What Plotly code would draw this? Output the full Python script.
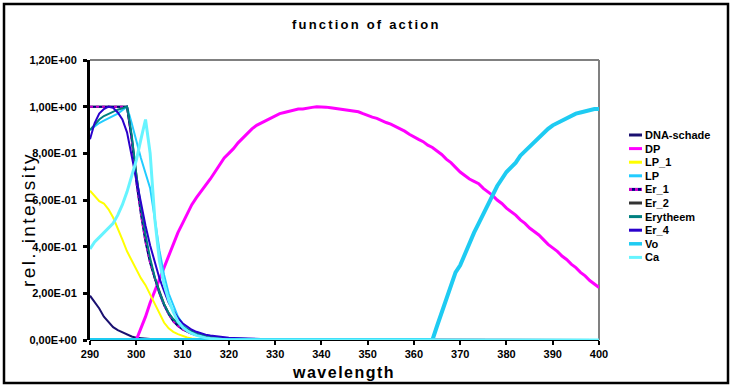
import plotly.graph_objects as go

# ---------------- data ----------------
wavelength = list(range(290, 401))

dna_schade = [0.19, 0.165, 0.135, 0.10, 0.075, 0.055, 0.042, 0.032, 0.022, 0.015,
              0.01, 0.007, 0.005, 0.004, 0.003, 0.003, 0.002, 0.002, 0.001, 0.001,
              0.001] + [0.0] * 90

dp = [None] * 10 + [
    0.0, 0.05, 0.10, 0.16, 0.21, 0.26, 0.31, 0.36, 0.41, 0.46,
    0.50, 0.54, 0.58, 0.61, 0.635, 0.66, 0.69, 0.72, 0.75, 0.78,
    0.80, 0.82, 0.845, 0.865, 0.885, 0.905, 0.92, 0.93, 0.94, 0.95,
    0.96, 0.97, 0.975, 0.98, 0.985, 0.99, 0.99, 0.995, 0.997, 1.0,
    1.0, 0.998, 0.995, 0.992, 0.99, 0.988, 0.985, 0.98, 0.978, 0.97,
    0.962, 0.955, 0.95, 0.94, 0.932, 0.925, 0.915, 0.908, 0.895, 0.882,
    0.87, 0.86, 0.85, 0.835, 0.825, 0.81, 0.795, 0.775, 0.76, 0.74,
    0.72, 0.705, 0.69, 0.68, 0.67, 0.65, 0.635, 0.62, 0.60, 0.585,
    0.565, 0.55, 0.535, 0.515, 0.50, 0.48, 0.465, 0.45, 0.43, 0.41,
    0.395, 0.38, 0.36, 0.345, 0.325, 0.31, 0.29, 0.275, 0.255, 0.24,
    0.225]

lp_1 = [0.64, 0.615, 0.595, 0.585, 0.56, 0.525, 0.48, 0.43, 0.38, 0.34,
        0.30, 0.265, 0.235, 0.195, 0.15, 0.11, 0.075, 0.05, 0.035, 0.025,
        0.017, 0.011, 0.007, 0.004, 0.002, 0.001] + [0.0] * 85

lp = [0.90, 0.915, 0.93, 0.94, 0.95, 0.96, 0.97, 0.985, 1.0, 0.93,
      0.85, 0.78, 0.715, 0.65, 0.52, 0.385, 0.28, 0.20, 0.15, 0.10,
      0.07, 0.048, 0.033, 0.023, 0.016, 0.011, 0.007, 0.005, 0.003, 0.002,
      0.001] + [0.0] * 80

er_1 = [1.0, 1.0, 1.0, 1.0, 1.0, 1.0, 1.0, 1.0, 1.0, 0.86,
        0.68, 0.54, 0.42, 0.33, 0.26, 0.20, 0.15, 0.11, 0.08, 0.06,
        0.045, 0.035, 0.027, 0.021, 0.017, 0.014, 0.011, 0.009, 0.007, 0.006,
        0.005, 0.004, 0.004, 0.003, 0.003, 0.002, 0.002, 0.002, 0.001, 0.001,
        0.001] + [0.0] * 70

er_2 = [1.0, 1.0, 1.0, 1.0, 1.0, 1.0, 1.0, 1.0, 1.0, 0.87,
        0.70, 0.555, 0.435, 0.34, 0.265, 0.205, 0.155, 0.115, 0.085, 0.063,
        0.048, 0.037, 0.029, 0.023, 0.018, 0.014, 0.011, 0.009, 0.007, 0.006,
        0.005, 0.004, 0.004, 0.003, 0.003, 0.002, 0.002, 0.002, 0.001, 0.001,
        0.001] + [0.0] * 70

erytheem = [0.90, 0.925, 0.945, 0.96, 0.97, 0.98, 0.987, 0.993, 1.0, 0.88,
            0.71, 0.57, 0.45, 0.35, 0.27, 0.205, 0.155, 0.115, 0.09, 0.072,
            0.058, 0.047, 0.038, 0.03, 0.024, 0.019, 0.015, 0.012, 0.01, 0.008,
            0.007, 0.006, 0.005, 0.004, 0.004, 0.003, 0.003, 0.002, 0.002, 0.001,
            0.001] + [0.0] * 70

er_4 = [0.86, 0.93, 0.97, 0.99, 1.0, 0.995, 0.975, 0.945, 0.89, 0.79,
        0.69, 0.58, 0.49, 0.405, 0.33, 0.265, 0.21, 0.16, 0.125, 0.095,
        0.072, 0.056, 0.044, 0.035, 0.028, 0.023, 0.019, 0.016, 0.013, 0.011,
        0.01, 0.009, 0.008, 0.007, 0.006, 0.005, 0.004, 0.004, 0.003, 0.003,
        0.002] + [0.0] * 70

vo = [0.0] * 75 + [
    0.06, 0.12, 0.18, 0.24, 0.29, 0.32, 0.37, 0.41, 0.46, 0.50,
    0.54, 0.58, 0.62, 0.66, 0.69, 0.72, 0.74, 0.76, 0.79, 0.81,
    0.83, 0.85, 0.87, 0.89, 0.905, 0.92, 0.93, 0.94, 0.95, 0.96,
    0.97, 0.975, 0.98, 0.985, 0.99, 0.99]

ca = [0.39, 0.42, 0.44, 0.46, 0.48, 0.50, 0.535, 0.58, 0.635, 0.70,
      0.77, 0.86, 0.945, 0.80, 0.52, 0.34, 0.24, 0.17, 0.12, 0.08,
      0.055, 0.04, 0.028, 0.02, 0.014, 0.009, 0.006, 0.004, 0.002, 0.001,
      0.0] + [0.0] * 80

y_tick_values = [0.0, 0.2, 0.4, 0.6, 0.8, 1.0, 1.2]
y_tick_labels = ["0,00E+00", "2,00E-01", "4,00E-01", "6,00E-01", "8,00E-01", "1,00E+00", "1,20E+00"]
x_tick_values = list(range(290, 401, 10))
x_tick_labels = [str(v) for v in x_tick_values]

legend_names = ["DNA-schade", "DP", "LP_1", "LP", "Er_1", "Er_2", "Erytheem", "Er_4", "Vo", "Ca"]

# ---------------- styles ----------------
FONT = "Liberation Sans, Arial, sans-serif"
styles = {
    "DNA-schade": dict(color="#1a1070", width=2, dash="solid"),
    "DP": dict(color="#FF00FF", width=3, dash="solid"),
    "LP_1": dict(color="#FFFF00", width=2, dash="solid"),
    "LP": dict(color="#22CCFF", width=2, dash="solid"),
    "Er_1": dict(color="#CC00CC", width=2, dash="dot"),
    "Er_2": dict(color="#333333", width=2, dash="solid"),
    "Erytheem": dict(color="#008080", width=2, dash="solid"),
    "Er_4": dict(color="#2a00cc", width=2, dash="solid"),
    "Vo": dict(color="#1ECBF2", width=4, dash="solid"),
    "Ca": dict(color="#66F4FF", width=3, dash="solid"),
}
values = {
    "DNA-schade": dna_schade, "DP": dp, "LP_1": lp_1, "LP": lp, "Er_1": er_1,
    "Er_2": er_2, "Erytheem": erytheem, "Er_4": er_4, "Vo": vo, "Ca": ca,
}
draw_order = ["DNA-schade", "DP", "LP_1", "LP", "Er_2", "Er_1", "Erytheem", "Er_4", "Vo", "Ca"]

fig = go.Figure()
for name in draw_order:
    if name == "Er_1":
        fig.add_trace(go.Scatter(x=wavelength, y=values[name], mode="lines", showlegend=False,
                                 line=dict(color="#000080", width=2), cliponaxis=False,
                                 hoverinfo="skip"))
    fig.add_trace(go.Scatter(x=wavelength, y=values[name], mode="lines", name=name,
                             line=styles[name], cliponaxis=False, showlegend=False))

W, H = 733, 389
L, R, T, B = 90, 134, 60, 49
pw, ph = W - L - R, H - T - B


def px_x(x):
    return (x - L) / pw


def px_y(y):
    return (H - B - y) / ph


shapes = [
    dict(type="line", xref="paper", yref="paper", x0=0, x1=1, y0=1, y1=1,
         line=dict(color="#808080", width=2), layer="below"),
    dict(type="line", xref="paper", yref="paper", x0=1, x1=1, y0=0, y1=1,
         line=dict(color="#808080", width=2), layer="below"),
    # baseline (x axis line) below traces
    dict(type="line", xref="paper", yref="paper", x0=0, x1=1, y0=0, y1=0,
         line=dict(color="black", width=2), layer="below"),
    dict(type="rect", xref="paper", yref="paper",
         x0=px_x(4), x1=px_x(728), y0=px_y(383), y1=px_y(4),
         line=dict(color="black", width=2.5), layer="below"),
]
annotations = [
    dict(text='<span style="letter-spacing:2.2px">function of action</span>',
         xref="paper", yref="paper", x=px_x(366), y=px_y(24), xanchor="center", yanchor="middle",
         showarrow=False, font=dict(size=13, family=FONT, weight="bold")),
    dict(text='<span style="letter-spacing:1.5px">wavelength</span>',
         xref="paper", yref="paper", x=px_x(343), y=px_y(372), xanchor="center", yanchor="middle",
         showarrow=False, font=dict(size=16, family=FONT, weight="bold")),
    dict(text='<span style="letter-spacing:2.4px">rel. intensity</span>', textangle=-90,
         xref="paper", yref="paper", x=px_x(28), y=px_y(220), xanchor="center", yanchor="middle",
         showarrow=False, font=dict(size=19, family=FONT, color="black")),
]

# legend drawn manually (compact Excel-like spacing)
leg_x0, leg_x1, leg_tx, leg_y0, leg_dy = 629, 642, 643, 135, 13.6
for i, name in enumerate(legend_names):
    yy = px_y(leg_y0 + i * leg_dy)
    st = styles[name]
    if name == "Er_1":
        shapes.append(dict(type="line", xref="paper", yref="paper", x0=px_x(leg_x0), x1=px_x(leg_x1),
                           y0=yy, y1=yy, line=dict(color="#000080", width=3)))
    shapes.append(dict(type="line", xref="paper", yref="paper", x0=px_x(leg_x0), x1=px_x(leg_x1),
                       y0=yy, y1=yy, line=dict(color=st["color"], width=max(3, min(st["width"], 3.5)),
                                               dash=st["dash"])))
    annotations.append(dict(text=name, xref="paper", yref="paper", x=px_x(leg_tx), y=yy,
                            xanchor="left", yanchor="middle", showarrow=False,
                            font=dict(size=11, family=FONT, weight="bold", color="black")))

fig.update_layout(
    width=W, height=H,
    margin=dict(l=L, r=R, t=T, b=B),
    paper_bgcolor="white", plot_bgcolor="white",
    font=dict(family=FONT, color="black"),
    showlegend=False,
    xaxis=dict(range=[290, 400], tickvals=x_tick_values, ticktext=x_tick_labels,
               showgrid=False, zeroline=False, showline=False,
               ticks="outside", ticklen=4, tickwidth=2, tickcolor="black", ticklabelstandoff=0,
               tickfont=dict(size=11, family=FONT, weight="bold"), layer="below traces"),
    yaxis=dict(range=[0, 1.2], tickvals=y_tick_values, ticktext=y_tick_labels,
               showgrid=False, zeroline=False, showline=True, linecolor="black", linewidth=3,
               ticks="outside", ticklen=4, tickwidth=3, tickcolor="black", ticklabelstandoff=4,
               tickfont=dict(size=11, family=FONT, weight="bold"), layer="below traces"),
    shapes=shapes,
    annotations=annotations,
)

fig.write_html("out.html", config={"displayModeBar": False},
               post_script="document.body.style.margin='0';document.body.style.overflow='hidden';")
